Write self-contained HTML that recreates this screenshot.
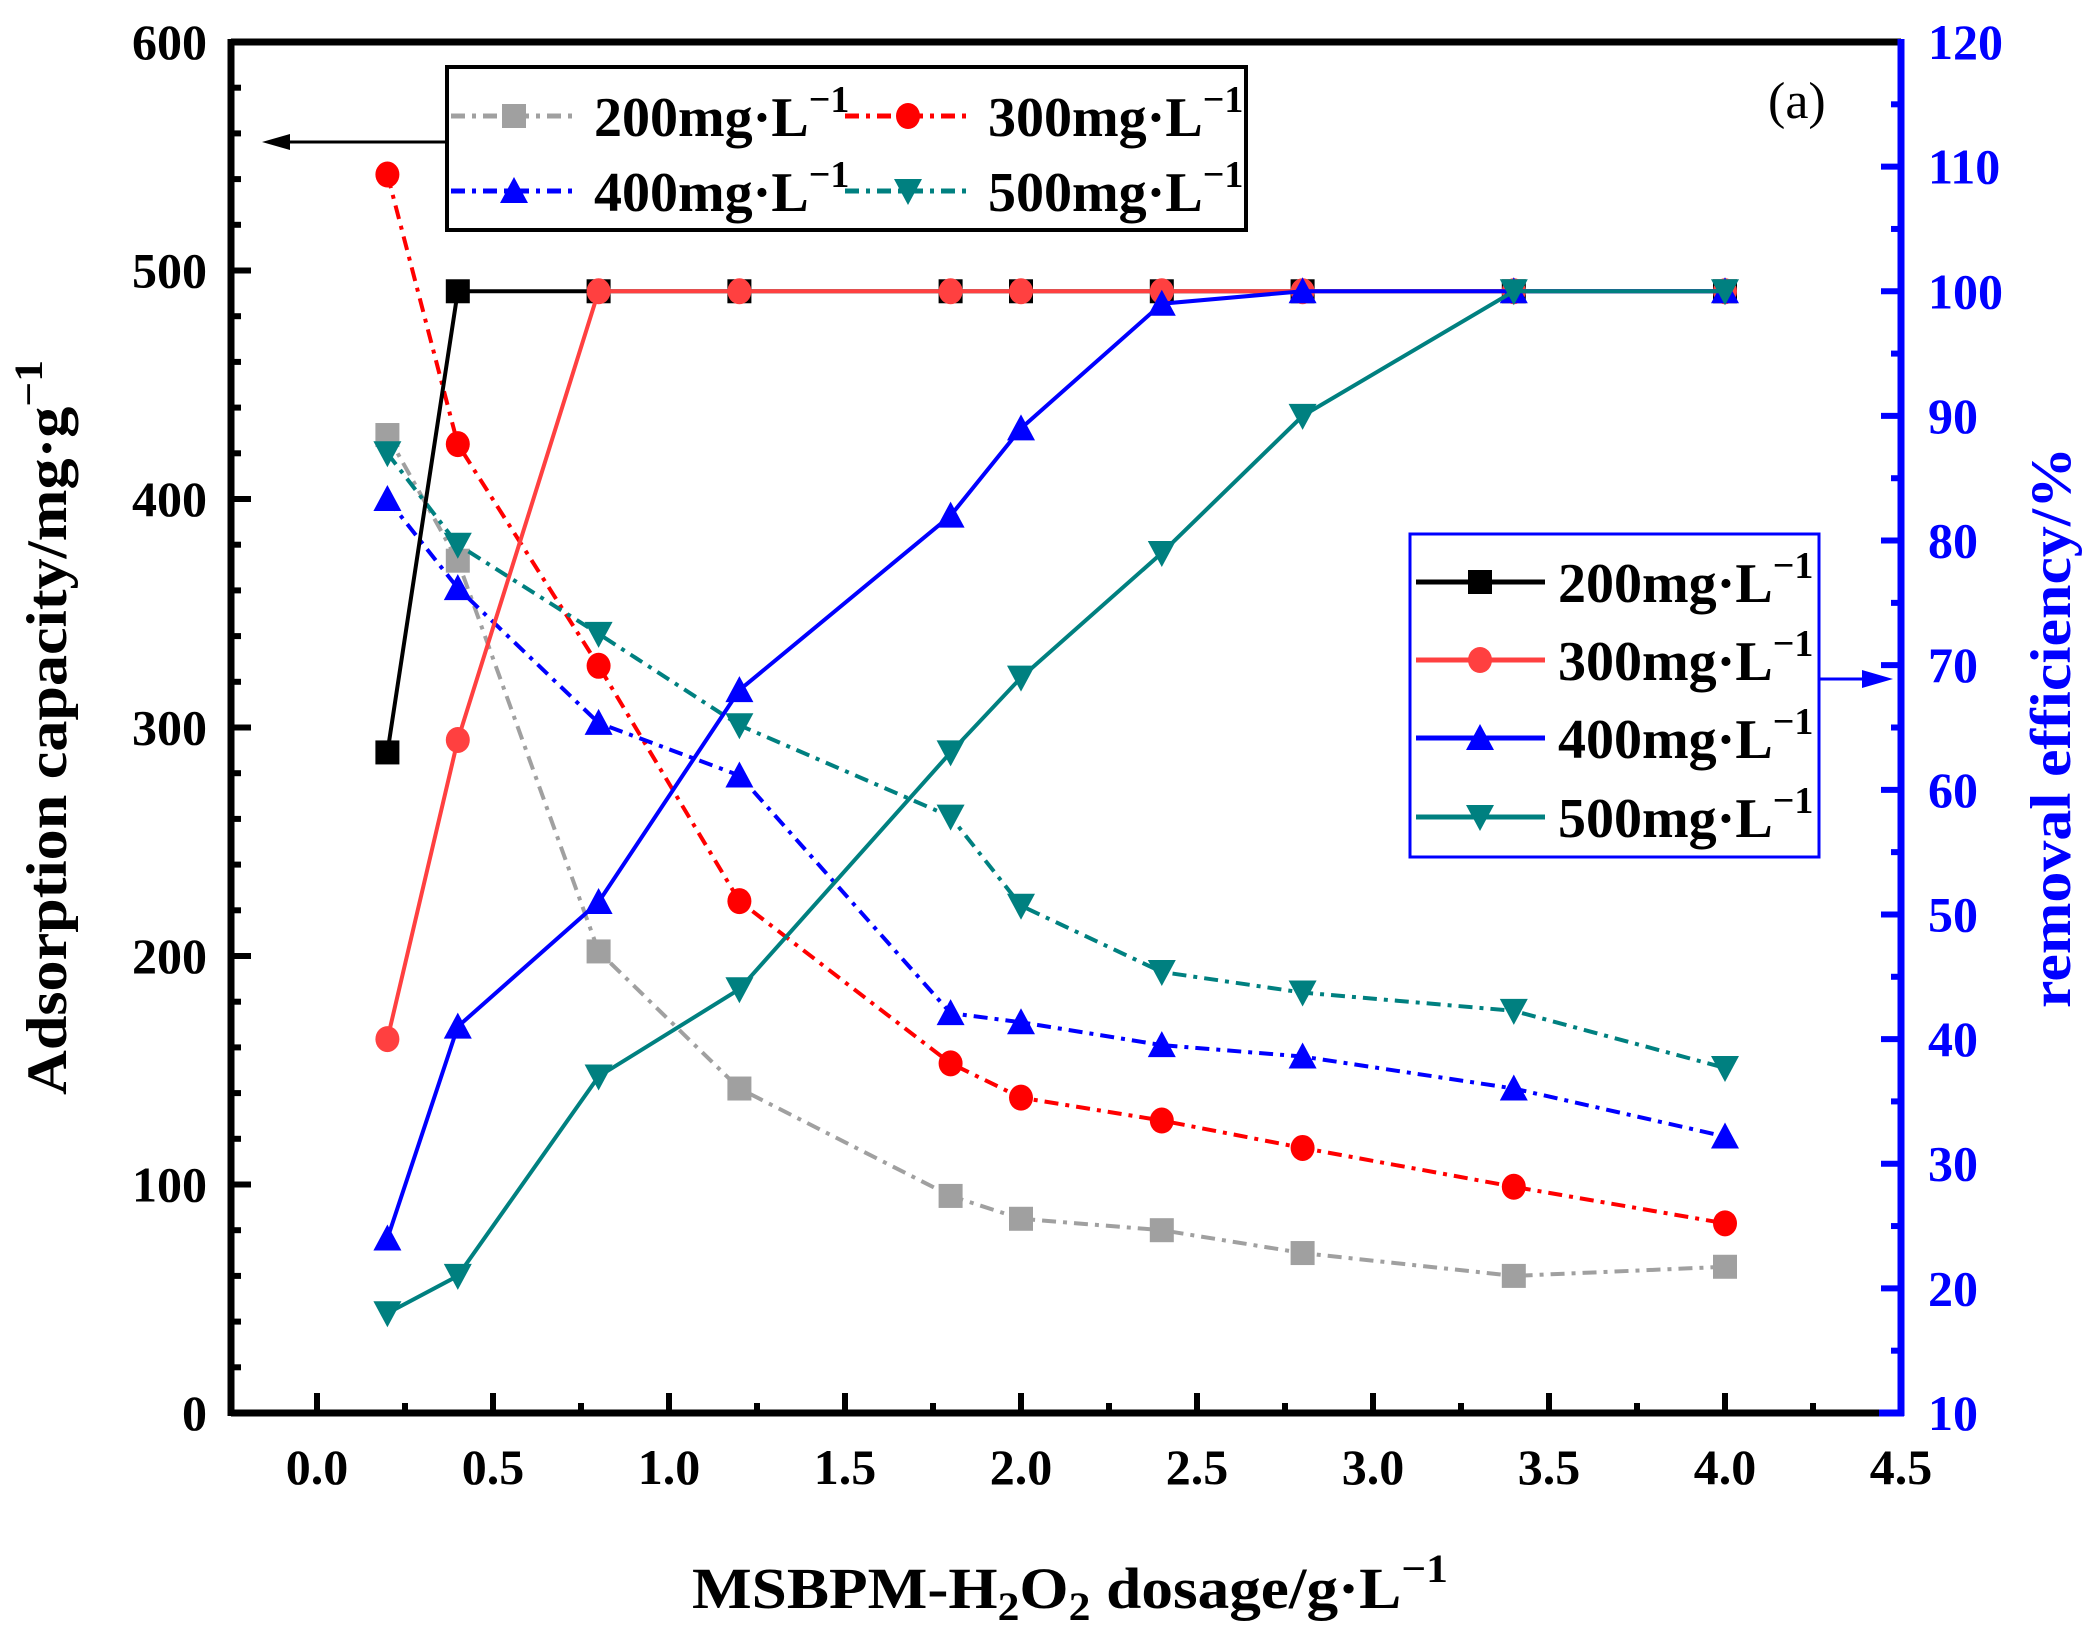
<!DOCTYPE html>
<html><head><meta charset="utf-8"><style>
html,body{margin:0;padding:0;background:#fff}
svg{display:block}
text{font-family:"Liberation Serif",serif;font-weight:bold}
</style></head><body>
<svg id="s" width="2094" height="1633" viewBox="0 0 2094 1633" xmlns="http://www.w3.org/2000/svg"></svg>
<script>
const s=document.getElementById('s');
let h='';
const X0=231,X1=1901,Y0=1413,Y1=42;
const px=x=>317+x*352;
const py=v=>Y0-(v/600)*(Y0-Y1);
const pr=r=>Y0-((r-10)/110)*(Y0-Y1);
const xs=[0.2,0.4,0.8,1.2,1.8,2.0,2.4,2.8,3.4,4.0];
for(let v=0;v<=600;v+=20){const y=py(v);const L=v%100==0?20:10;h+=`<line x1="${X0}" y1="${y}" x2="${X0+L}" y2="${y}" stroke="#000" stroke-width="6"/>`;
 if(v%100==0)h+=`<text x="207" y="${y+17}" font-size="50" text-anchor="end">${v}</text>`;}
for(let r=10;r<=120;r+=5){const y=pr(r);const L=r%10==0?20:10;h+=`<line x1="${X1}" y1="${y}" x2="${X1-L}" y2="${y}" stroke="#00f" stroke-width="6"/>`;
 if(r%10==0)h+=`<text x="1928" y="${y+17}" font-size="50" fill="#00f">${r}</text>`;}
for(let i=0;i<=18;i++){const x=px(i*0.25);const L=i%2==0?20:10;h+=`<line x1="${x}" y1="${Y0}" x2="${x}" y2="${Y0-L}" stroke="#000" stroke-width="6"/>`;
 if(i%2==0)h+=`<text x="${x}" y="1484" font-size="50" text-anchor="middle">${(i*0.25).toFixed(1)}</text>`;}
h+=`<line x1="${X0}" y1="${Y1}" x2="${X1}" y2="${Y1}" stroke="#000" stroke-width="7"/>`;
h+=`<line x1="${X0}" y1="${Y1-3}" x2="${X0}" y2="${Y0+3}" stroke="#000" stroke-width="7"/>`;
h+=`<line x1="${X0}" y1="${Y0}" x2="${X1-20}" y2="${Y0}" stroke="#000" stroke-width="7"/>`;
h+=`<line x1="${X1-22}" y1="${Y0}" x2="${X1+3}" y2="${Y0}" stroke="#00f" stroke-width="7"/>`;
h+=`<line x1="${X1}" y1="${Y1-3}" x2="${X1}" y2="${Y0+3}" stroke="#00f" stroke-width="7"/>`;
function mk(t,x,y,c,sz){sz=sz||12;
 if(t=='s')return `<rect x="${x-sz}" y="${y-sz}" width="${2*sz}" height="${2*sz}" fill="${c}"/>`;
 if(t=='c')return `<ellipse cx="${x}" cy="${y}" rx="${sz}" ry="${sz+1}" fill="${c}"/>`;
 if(t=='u')return `<polygon points="${x},${y-sz-2} ${x-sz-2},${y+sz} ${x+sz+2},${y+sz}" fill="${c}"/>`;
 return `<polygon points="${x},${y+sz+2} ${x-sz-2},${y-sz} ${x+sz+2},${y-sz}" fill="${c}"/>`;}
const dd='14 7 4 7';
const A=[
 ['#a0a0a0','s',[428,373,202,142,95,85,80,70,60,64]],
 ['#ff0000','c',[542,424,327,224,153,138,128,116,99,83]],
 ['#0000ff','u',[400,361,302,279,175,171,161,156,142,121]],
 ['#008080','d',[420,380,341,301,261,222,193,184,176,151]]];
const R=[
 ['#000','s',[63,100,100,100,100,100,100,100,100,100]],
 ['#ff4040','c',[40,64,100,100,100,100,100,100,100,100]],
 ['#0000ff','u',[24,41,51,68,82,89,99,100,100,100]],
 ['#008080','d',[18,21,37,44,63,69,79,90,100,100]]];
A.forEach(([c,t,v])=>{h+=`<polyline fill="none" stroke="${c}" stroke-width="4" stroke-dasharray="${dd}" points="${v.map((y,i)=>px(xs[i])+','+py(y)).join(' ')}"/>`;
 v.forEach((y,i)=>h+=mk(t,px(xs[i]),py(y),c));});
R.forEach(([c,t,v])=>{h+=`<polyline fill="none" stroke="${c}" stroke-width="4" points="${v.map((y,i)=>px(xs[i])+','+pr(y)).join(' ')}"/>`;
 v.forEach((y,i)=>h+=mk(t,px(xs[i]),pr(y),c));});
h+=`<rect x="447" y="67" width="799" height="163" fill="#fff" stroke="#000" stroke-width="4"/>`;
h+=`<line x1="447" y1="142" x2="290" y2="142" stroke="#000" stroke-width="3"/><polygon points="262,142 290,134 290,150" fill="#000"/>`;
function lt(x,y,val){return `<text x="${x}" y="${y}" font-size="56">${val}mg·L<tspan dy="-24" font-size="38">−1</tspan></text>`;}
[[451,116,A[0],200],[845,116,A[1],300],[451,191,A[2],400],[845,191,A[3],500]].forEach(([x,y,a,v])=>{
 h+=`<line x1="${x}" y1="${y}" x2="${x+126}" y2="${y}" stroke="${a[0]}" stroke-width="5" stroke-dasharray="${dd}"/>`+mk(a[1],x+63,y,a[0],12)+lt(x+143,y+20,v);});
h+=`<rect x="1410" y="534" width="409" height="323" fill="#fff" stroke="#00f" stroke-width="3"/>`;
h+=`<line x1="1819" y1="679" x2="1866" y2="679" stroke="#00f" stroke-width="3"/><polygon points="1893,679 1862,670 1862,688" fill="#00f"/>`;
[582,660,738,817].forEach((y,i)=>{const a=R[i];h+=`<line x1="1416" y1="${y}" x2="1545" y2="${y}" stroke="${a[0]}" stroke-width="5"/>`+mk(a[1],1480,y,a[0],12)+lt(1558,y+20,200+100*i);});
h+=`<text x="1768" y="118" font-size="52" style="font-weight:normal">(a)</text>`;
h+=`<text x="692" y="1608" font-size="58" textLength="756" lengthAdjust="spacingAndGlyphs">MSBPM-H<tspan dy="12" font-size="40">2</tspan><tspan dy="-12">O</tspan><tspan dy="12" font-size="40">2</tspan><tspan dy="-12">  dosage/g·L</tspan><tspan dy="-26" font-size="40">−1</tspan></text>`;
h+=`<text transform="translate(66,1095) rotate(-90)" font-size="57" textLength="735" lengthAdjust="spacingAndGlyphs">Adsorption capacity/mg·g<tspan dy="-24" font-size="40">−1</tspan></text>`;
h+=`<text transform="translate(2070,1008) rotate(-90)" font-size="57" fill="#00f" textLength="561" lengthAdjust="spacingAndGlyphs">removal efficiency/%</text>`;
s.innerHTML=h;
</script>
</body></html>
